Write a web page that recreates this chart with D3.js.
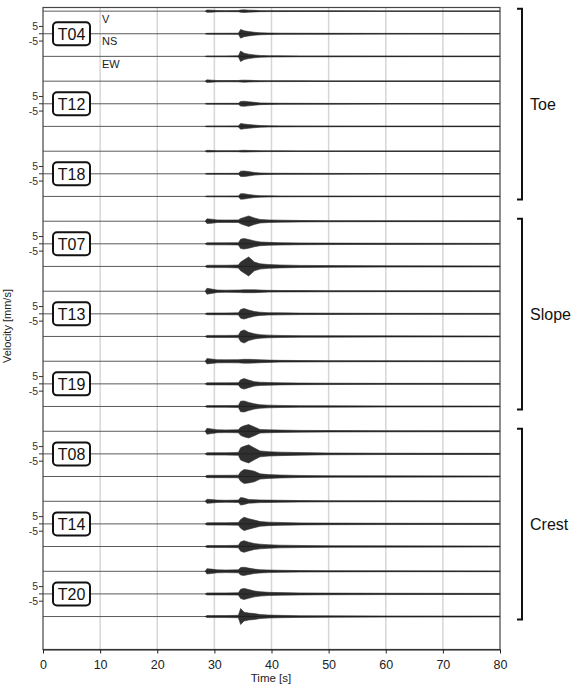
<!DOCTYPE html>
<html>
<head>
<meta charset="utf-8">
<script src="https://cdn.jsdelivr.net/npm/d3@7"></script>
<style>
    body { margin: 0; background: #fff; }
    #chart { width: 581px; height: 689px; }
    text { font-family: "Liberation Sans", Arial, sans-serif; }
</style>
</head>
<body>
<div id="chart"></div>
<script>
/*
 * Seismograms, three components per station, grouped by position on the slope
 */

const stations = ["T04", "T12", "T18", "T07", "T13", "T19", "T08", "T14", "T20"];
const components = ["V", "NS", "EW"];
const groups = ["Toe", "Slope", "Crest"];
const xTicks = [0, 10, 20, 30, 40, 50, 60, 70, 80];
const yTicks = [5, 0, -5];
const yTickLabels = ["5", "", "-5"];

const knotTimes = [28.4, 28.7, 29.5, 30.5, 32, 34.2, 34.6, 35.2, 36, 37, 38, 39.5, 41.5, 45, 50, 60, 80];

// half amplitude of the wiggles, mm/s, rows V / NS / EW
const T04 = [
    [0, 0.8, 0.7, 0.4, 0.35, 0.4, 0.8, 0.9, 0.7, 0.55, 0.35, 0.3, 0.3, 0.2, 0.2, 0.15, 0.15],
    [0, 0.3, 0.35, 0.35, 0.35, 0.4, 3.0, 2.0, 1.5, 1.0, 0.7, 0.5, 0.4, 0.35, 0.3, 0.25, 0.2],
    [0, 0.3, 0.3, 0.3, 0.3, 0.4, 3.6, 2.2, 1.5, 1.0, 0.6, 0.45, 0.4, 0.3, 0.3, 0.25, 0.2]
];
const T12 = [
    [0, 0.9, 0.7, 0.45, 0.4, 0.45, 0.6, 0.7, 0.6, 0.45, 0.35, 0.3, 0.3, 0.25, 0.2, 0.15, 0.15],
    [0, 0.3, 0.3, 0.3, 0.3, 0.35, 1.6, 1.7, 1.4, 1.0, 0.6, 0.45, 0.35, 0.3, 0.25, 0.2, 0.2],
    [0, 0.3, 0.3, 0.3, 0.3, 0.35, 2.0, 1.6, 1.3, 0.9, 0.6, 0.45, 0.35, 0.3, 0.25, 0.2, 0.2]
];
const T18 = [
    [0, 0.6, 0.5, 0.35, 0.3, 0.35, 0.55, 0.6, 0.5, 0.4, 0.3, 0.25, 0.25, 0.2, 0.2, 0.15, 0.15],
    [0, 0.3, 0.3, 0.3, 0.3, 0.35, 1.8, 1.9, 1.5, 0.9, 0.6, 0.4, 0.35, 0.3, 0.25, 0.2, 0.2],
    [0, 0.3, 0.3, 0.3, 0.3, 0.35, 1.9, 1.8, 1.3, 0.8, 0.5, 0.4, 0.3, 0.25, 0.25, 0.2, 0.2]
];
const T07 = [
    [0, 1.6, 1.4, 0.9, 0.8, 0.9, 1.8, 2.6, 3.6, 2.2, 1.2, 0.9, 0.7, 0.5, 0.4, 0.3, 0.25],
    [0, 0.7, 0.7, 0.7, 0.7, 0.8, 3.2, 3.6, 3.0, 2.0, 1.3, 1.0, 0.8, 0.6, 0.5, 0.4, 0.3],
    [0, 0.8, 0.8, 0.8, 0.8, 1.0, 3.0, 4.5, 6.5, 3.0, 1.8, 1.3, 1.0, 0.7, 0.6, 0.45, 0.35]
];
const T13 = [
    [0, 2.0, 1.5, 0.8, 0.7, 0.8, 0.9, 1.0, 1.0, 1.0, 0.8, 0.6, 0.5, 0.45, 0.4, 0.3, 0.25],
    [0, 0.6, 0.6, 0.6, 0.6, 0.7, 3.0, 3.6, 2.6, 1.6, 1.1, 0.8, 0.7, 0.5, 0.45, 0.35, 0.3],
    [0, 0.7, 0.7, 0.7, 0.7, 0.8, 3.5, 4.5, 2.8, 1.8, 1.2, 0.9, 0.7, 0.55, 0.5, 0.4, 0.3]
];
const T19 = [
    [0, 1.8, 1.5, 1.1, 1.0, 1.1, 1.2, 1.3, 1.3, 1.2, 1.0, 0.8, 0.6, 0.5, 0.4, 0.3, 0.25],
    [0, 0.7, 0.7, 0.7, 0.7, 0.8, 2.8, 3.6, 2.6, 1.5, 1.1, 0.9, 0.7, 0.55, 0.45, 0.35, 0.3],
    [0, 0.6, 0.6, 0.6, 0.6, 0.7, 3.6, 3.8, 2.8, 1.8, 1.2, 0.9, 0.7, 0.55, 0.5, 0.4, 0.3]
];
const T08 = [
    [0, 2.0, 1.6, 1.0, 0.9, 1.0, 2.8, 3.8, 4.6, 3.0, 1.2, 1.0, 0.8, 0.6, 0.5, 0.4, 0.3],
    [0, 0.8, 0.8, 0.8, 0.8, 1.0, 4.2, 5.2, 6.2, 4.0, 2.0, 1.5, 1.2, 0.9, 0.6, 0.45, 0.35],
    [0, 0.8, 0.8, 0.8, 0.8, 0.9, 3.2, 4.8, 4.4, 3.6, 1.8, 1.3, 1.0, 0.7, 0.55, 0.45, 0.35]
];
const T14 = [
    [0, 1.4, 1.2, 0.8, 0.7, 0.8, 2.6, 2.2, 1.3, 1.1, 0.9, 0.8, 0.7, 0.5, 0.4, 0.3, 0.25],
    [0, 0.8, 0.8, 0.8, 0.8, 0.9, 3.0, 4.6, 3.6, 2.6, 1.6, 1.2, 1.0, 0.7, 0.55, 0.45, 0.35],
    [0, 0.7, 0.7, 0.7, 0.7, 0.8, 3.2, 4.0, 3.0, 2.0, 1.6, 1.2, 0.9, 0.7, 0.55, 0.45, 0.35]
];
const T20 = [
    [0, 1.8, 1.5, 1.0, 0.9, 1.0, 2.6, 2.8, 2.2, 1.5, 1.1, 0.9, 0.7, 0.5, 0.4, 0.3, 0.25],
    [0, 0.7, 0.7, 0.7, 0.7, 0.8, 3.2, 3.8, 3.0, 2.0, 1.5, 1.1, 0.9, 0.7, 0.55, 0.45, 0.35],
    [0, 0.7, 0.7, 0.7, 0.7, 0.8, 5.5, 3.0, 2.4, 2.0, 1.4, 1.0, 0.8, 0.6, 0.5, 0.4, 0.3]
];

const envelopes = {T04, T12, T18, T07, T13, T19, T08, T14, T20};


class SeismoVis {
    constructor(parentElement) {
        this.parentElement = parentElement;
        this.initVis();
    }

    initVis() {
        let vis = this;

        vis.width = 581;
        vis.height = 689;
        vis.plot = {left: 43, right: 500, top: 7.5, bottom: 649.5};

        // trace spacing in mm/s
        vis.compGap = 15.5;
        vis.stationGap = 48;

        vis.svg = d3.select("#" + vis.parentElement).append("svg")
            .attr("width", vis.width)
            .attr("height", vis.height);

        vis.x = d3.scaleLinear()
            .domain([0, 80])
            .range([vis.plot.left, vis.plot.right]);

        vis.y = d3.scaleLinear()
            .domain([2.5, -437.6])
            .range([vis.plot.top, vis.plot.bottom]);

        vis.wrangleData();
    }

    offset(s, c) {
        return -(s * this.stationGap + c * this.compGap);
    }

    wrangleData() {
        let vis = this;

        vis.traces = [];
        stations.forEach((st, s) => {
            components.forEach((comp, c) => {
                vis.traces.push({
                    station: st,
                    comp: comp,
                    s: s,
                    c: c,
                    off: vis.offset(s, c),
                    values: knotTimes.map((t, i) => ({t: t, a: envelopes[st][c][i]}))
                });
            });
        });

        vis.updateVis();
    }

    updateVis() {
        let vis = this;
        let p = vis.plot;

        // vertical grid
        vis.svg.append("g").selectAll("line")
            .data(xTicks.slice(1, -1))
            .enter().append("line")
            .attr("x1", d => vis.x(d)).attr("x2", d => vis.x(d))
            .attr("y1", p.top).attr("y2", p.bottom)
            .attr("stroke", "#d6d6d6")
            .attr("stroke-width", 1.5);

        // baselines
        vis.svg.append("g").selectAll("line")
            .data(vis.traces)
            .enter().append("line")
            .attr("x1", vis.x(0)).attr("x2", vis.x(80))
            .attr("y1", d => vis.y(d.off)).attr("y2", d => vis.y(d.off))
            .attr("stroke", "#5a5a5a")
            .attr("stroke-width", 1);

        // wiggle envelopes
        vis.svg.append("g").selectAll("path")
            .data(vis.traces)
            .enter().append("path")
            .attr("d", d => d3.area()
                .x(v => vis.x(v.t))
                .y0(v => vis.y(d.off + v.a))
                .y1(v => vis.y(d.off - v.a))(d.values))
            .attr("fill", "#1a1a1a")
            .attr("stroke", "#1a1a1a")
            .attr("stroke-width", 0.6)
            .attr("opacity", 0.9);

        // frame
        vis.svg.append("rect")
            .attr("x", p.left).attr("y", p.top)
            .attr("width", p.right - p.left).attr("height", p.bottom - p.top)
            .attr("fill", "none")
            .attr("stroke", "#444")
            .attr("stroke-width", 1.2);

        // x axis
        let xAxis = vis.svg.append("g")
            .attr("transform", `translate(0, ${p.bottom})`)
            .call(d3.axisBottom(vis.x).tickValues(xTicks).tickSize(4).tickSizeOuter(0));
        xAxis.select(".domain").attr("stroke", "#222").attr("stroke-width", 1.2);
        xAxis.selectAll("line").attr("stroke", "#222");
        xAxis.selectAll("text")
            .attr("font-size", "12.5px")
            .attr("fill", "#222")
            .attr("dy", "1.0em");

        vis.svg.append("text")
            .attr("x", 271).attr("y", 682)
            .attr("text-anchor", "middle")
            .attr("font-size", "11.5px")
            .attr("fill", "#222")
            .text("Time [s]");

        vis.svg.append("text")
            .attr("transform", `translate(11, 326) rotate(-90)`)
            .attr("text-anchor", "middle")
            .attr("font-size", "11px")
            .attr("fill", "#222")
            .text("Velocity [mm/s]");

        // small y scale next to every NS trace
        stations.forEach((st, s) => {
            let off = vis.offset(s, 1);
            let g = vis.svg.append("g");
            g.selectAll("line")
                .data(yTicks)
                .enter().append("line")
                .attr("x1", p.left - 4).attr("x2", p.left)
                .attr("y1", d => vis.y(off + d)).attr("y2", d => vis.y(off + d))
                .attr("stroke", "#333");
            g.selectAll("text")
                .data(yTicks)
                .enter().append("text")
                .attr("x", p.left - 5)
                .attr("y", d => vis.y(off + d))
                .attr("dy", "0.35em")
                .attr("text-anchor", "end")
                .attr("font-size", "10.5px")
                .attr("fill", "#333")
                .text((d, i) => yTickLabels[i]);

            // station box
            let yc = vis.y(off);
            g.append("rect")
                .attr("x", 53).attr("y", yc - 11.5)
                .attr("width", 37).attr("height", 23)
                .attr("rx", 4)
                .attr("fill", "white")
                .attr("stroke", "#111")
                .attr("stroke-width", 2);
            g.append("text")
                .attr("x", 71.5).attr("y", yc)
                .attr("dy", "0.36em")
                .attr("text-anchor", "middle")
                .attr("font-size", "16px")
                .attr("fill", "#111")
                .text(st);
        });

        // component names for the first station
        vis.svg.append("g").selectAll("text")
            .data(components)
            .enter().append("text")
            .attr("x", 102)
            .attr("y", (d, c) => vis.y(vis.offset(0, c)) + 11.5)
            .attr("font-size", "11px")
            .attr("fill", "#222")
            .text(d => d);

        // brackets on the right
        groups.forEach((grp, k) => {
            let y1 = vis.y(vis.offset(k * 3, 0)) - 2.5;
            let y2 = vis.y(vis.offset(k * 3 + 2, 2)) + 3;
            let bx = 522;
            vis.svg.append("path")
                .attr("d", `M${bx - 5},${y1}H${bx}V${y2}H${bx - 5}`)
                .attr("fill", "none")
                .attr("stroke", "#111")
                .attr("stroke-width", 2);
            vis.svg.append("text")
                .attr("x", 530)
                .attr("y", (y1 + y2) / 2)
                .attr("dy", "0.35em")
                .attr("font-size", "16px")
                .attr("fill", "#111")
                .text(grp);
        });
    }
}

let seismoVis = new SeismoVis("chart");
</script>
</body>
</html>
